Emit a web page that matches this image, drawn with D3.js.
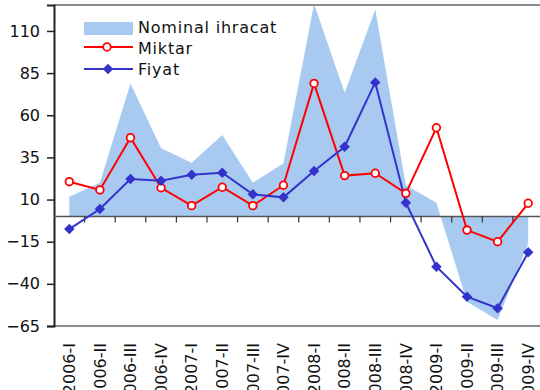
<!DOCTYPE html>
<html>
<head>
<meta charset="utf-8">
<script src="https://cdn.jsdelivr.net/npm/d3@7"></script>
<style>
  body { margin: 0; background: #fff; }
  text { font-family: "DejaVu Sans", sans-serif; }
</style>
</head>
<body>
<script>
var width = 540,
    height = 390;

var quarters = ["2006-I", "2006-II", "2006-III", "2006-IV", "2007-I", "2007-II", "2007-III", "2007-IV",
                "2008-I", "2008-II", "2008-III", "2008-IV", "2009-I", "2009-II", "2009-III", "2009-IV"];
var nominal = [11.7, 20, 78.9, 40.4, 31.9, 48.3, 20, 31.5, 126, 73.4, 122.8, 18.5, 8.1, -50.6, -61.4, -16];
var miktar = [20.6, 15.7, 46.7, 17.0, 6.4, 17.3, 6.4, 18.5, 78.9, 24.2, 25.6, 13.7, 52.6, -8.1, -15, 7.8];
var fiyat = [-7.5, 4.4, 22.2, 21.2, 24.7, 25.9, 13.1, 11.3, 26.9, 41.3, 79.5, 8.1, -29.8, -47.6, -54.5, -21.3];
var yTicks = [-65, -40, -15, 10, 35, 60, 85, 110];
var legendNames = ["Nominal ihracat", "Miktar", "Fiyat"];

var plotLeft = 54, plotRight = 543.5, plotTop = 5, plotBottom = 326;

var svg = d3.select("body").append("svg")
    .attr("width", width)
    .attr("height", height);

var x = d3.scaleBand().domain(quarters).range([plotLeft, plotRight]);
var y = d3.scaleLinear().domain([-65, 125.4]).range([plotBottom, plotTop]);
var cx = function(d, i) { return x(quarters[i]) + x.bandwidth() / 2; };

// area
var area = d3.area()
    .x(cx)
    .y0(y(0))
    .y1(function(d) { return y(d); });

svg.append("path")
    .datum(nominal)
    .attr("fill", "#a8caf0")
    .attr("d", area);

// frame
svg.append("line").attr("x1", plotLeft).attr("x2", width).attr("y1", plotTop).attr("y2", plotTop)
    .attr("stroke", "#8c8c8c").attr("stroke-width", 2);
svg.append("line").attr("x1", plotLeft).attr("x2", width).attr("y1", plotBottom).attr("y2", plotBottom)
    .attr("stroke", "#8c8c8c").attr("stroke-width", 2);

// y axis
var yAxis = svg.append("g")
    .attr("transform", "translate(" + plotLeft + ",0)")
    .call(d3.axisLeft(y).tickValues(yTicks).tickSize(7).tickPadding(7));
yAxis.select(".domain").attr("stroke", "#222").attr("stroke-width", 2);
yAxis.selectAll(".tick line").attr("stroke", "#222").attr("stroke-width", 1.5);
yAxis.selectAll("text").attr("font-size", 16).attr("fill", "#111")
    .style("font-family", "DejaVu Sans, sans-serif");

// zero line with ticks at band boundaries
var bounds = quarters.map(function(q) { return x(q); }).slice(1);
svg.append("line").attr("x1", plotLeft).attr("x2", width).attr("y1", y(0)).attr("y2", y(0))
    .attr("stroke", "#555").attr("stroke-width", 1.5);
svg.append("g").selectAll("line")
    .data(bounds)
    .enter().append("line")
    .attr("x1", function(d) { return d; })
    .attr("x2", function(d) { return d; })
    .attr("y1", y(0))
    .attr("y2", y(0) + 6)
    .attr("stroke", "#333")
    .attr("stroke-width", 1.2);

// x labels
svg.append("g").selectAll("text")
    .data(quarters)
    .enter().append("text")
    .attr("transform", function(d) {
        return "translate(" + (x(d) + x.bandwidth() / 2) + ",343) rotate(-90)";
    })
    .attr("text-anchor", "end")
    .attr("dy", "0.36em")
    .attr("font-size", 16)
    .attr("fill", "#111")
    .text(function(d) { return d; });

// lines
var line = d3.line().x(cx).y(function(d) { return y(d); });

svg.append("path")
    .datum(miktar)
    .attr("fill", "none")
    .attr("stroke", "#ff0000")
    .attr("stroke-width", 2)
    .attr("d", line);

svg.append("path")
    .datum(fiyat)
    .attr("fill", "none")
    .attr("stroke", "#3333cc")
    .attr("stroke-width", 2)
    .attr("d", line);

svg.append("g").selectAll("circle")
    .data(miktar)
    .enter().append("circle")
    .attr("cx", cx)
    .attr("cy", function(d) { return y(d); })
    .attr("r", 3.8)
    .attr("fill", "#fff")
    .attr("stroke", "#ff0000")
    .attr("stroke-width", 1.8);

var diamond = d3.symbol().type(d3.symbolDiamond2).size(70);
svg.append("g").selectAll("path")
    .data(fiyat)
    .enter().append("path")
    .attr("transform", function(d, i) { return "translate(" + cx(d, i) + "," + y(d) + ")"; })
    .attr("d", diamond)
    .attr("fill", "#3333cc");

// legend
var lg = svg.append("g");
lg.append("rect").attr("x", 84).attr("y", 22).attr("width", 49).attr("height", 13).attr("fill", "#a8caf0");
lg.append("line").attr("x1", 84).attr("x2", 133).attr("y1", 47).attr("y2", 47)
    .attr("stroke", "#ff0000").attr("stroke-width", 2);
lg.append("circle").attr("cx", 107).attr("cy", 47).attr("r", 3.8)
    .attr("fill", "#fff").attr("stroke", "#ff0000").attr("stroke-width", 1.8);
lg.append("line").attr("x1", 84).attr("x2", 133).attr("y1", 69).attr("y2", 69)
    .attr("stroke", "#3333cc").attr("stroke-width", 2);
lg.append("path").attr("transform", "translate(108,69)").attr("d", diamond).attr("fill", "#3333cc");

lg.selectAll("text.lbl")
    .data(legendNames)
    .enter().append("text")
    .attr("class", "lbl")
    .attr("x", 138)
    .attr("y", function(d, i) { return 27 + i * 21; })
    .attr("dy", "0.36em")
    .attr("font-size", 16)
    .attr("letter-spacing", 0.8)
    .attr("fill", "#111")
    .text(function(d) { return d; });
</script>
</body>
</html>
